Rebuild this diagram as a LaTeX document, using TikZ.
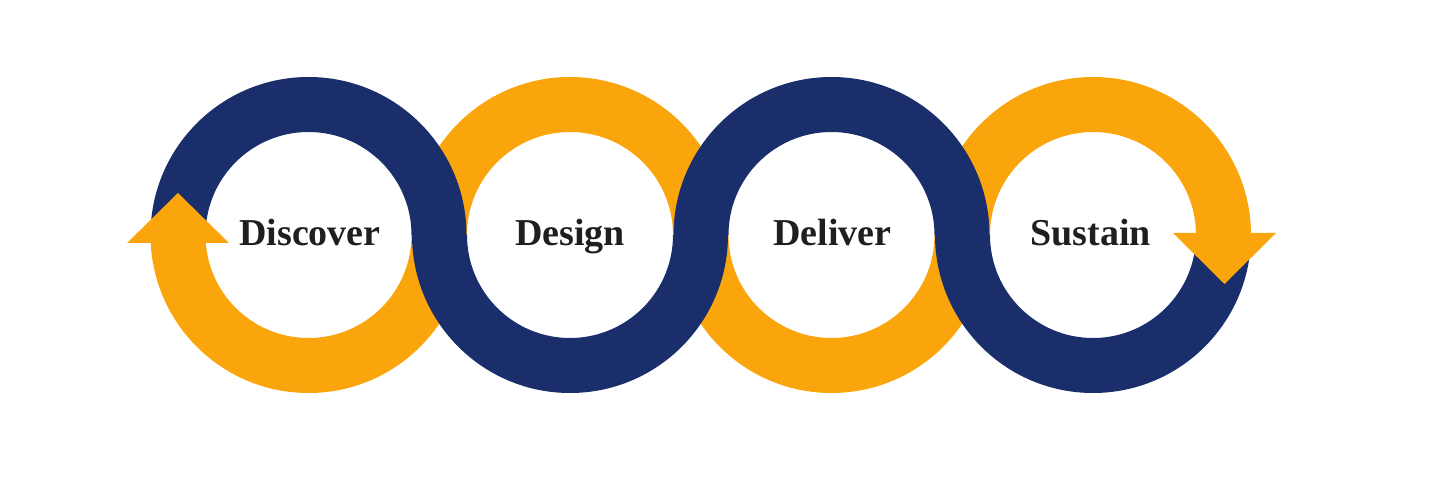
\documentclass[tikz,border=0pt]{standalone}
\usepackage{fontspec}
\setmainfont{Liberation Serif}
\definecolor{navy}{RGB}{25,46,107}
\definecolor{gold}{RGB}{251,165,12}
% half of a ring: centre x, start angle, end angle, colour
\newcommand{\ringpart}[4]{%
  \fill[#4] (#1,253) ++(#2:158) arc[start angle=#2, end angle=#3, radius=158]
    -- ++(#3:-55) arc[start angle=#3, end angle=#2, radius=103] -- cycle;}
\begin{document}
\begin{tikzpicture}[x=1pt,y=1pt]
  \tikzstyle{every node}=[anchor=base, text=black!88,
    font=\fontsize{38}{40}\selectfont\bfseries]
  \useasboundingbox (0,0) rectangle (1430,488);
  % gold bands
  \ringpart{308.5}{180}{360}{gold}
  \ringpart{570}{0}{180}{gold}
  \ringpart{831.5}{180}{360}{gold}
  \ringpart{1093}{0}{180}{gold}
  % navy bands
  \ringpart{308.5}{0}{180}{navy}
  \ringpart{570}{180}{360}{navy}
  \ringpart{831.5}{0}{180}{navy}
  \ringpart{1093}{180}{360}{navy}
  % arrow heads
  \fill[gold] (127,245) -- (178,295) -- (229,245) -- cycle;
  \fill[gold] (1173,255) -- (1224.5,204) -- (1276,255) -- cycle;
  % labels
  \node (discover) at (310,242) {Discover};
  \node (design)   at (570,242) {Design};
  \node (deliver)  at (832.5,242) {Deliver};
  \node (sustain)  at (1090.5,242) {Sustain};
\end{tikzpicture}
\end{document}
